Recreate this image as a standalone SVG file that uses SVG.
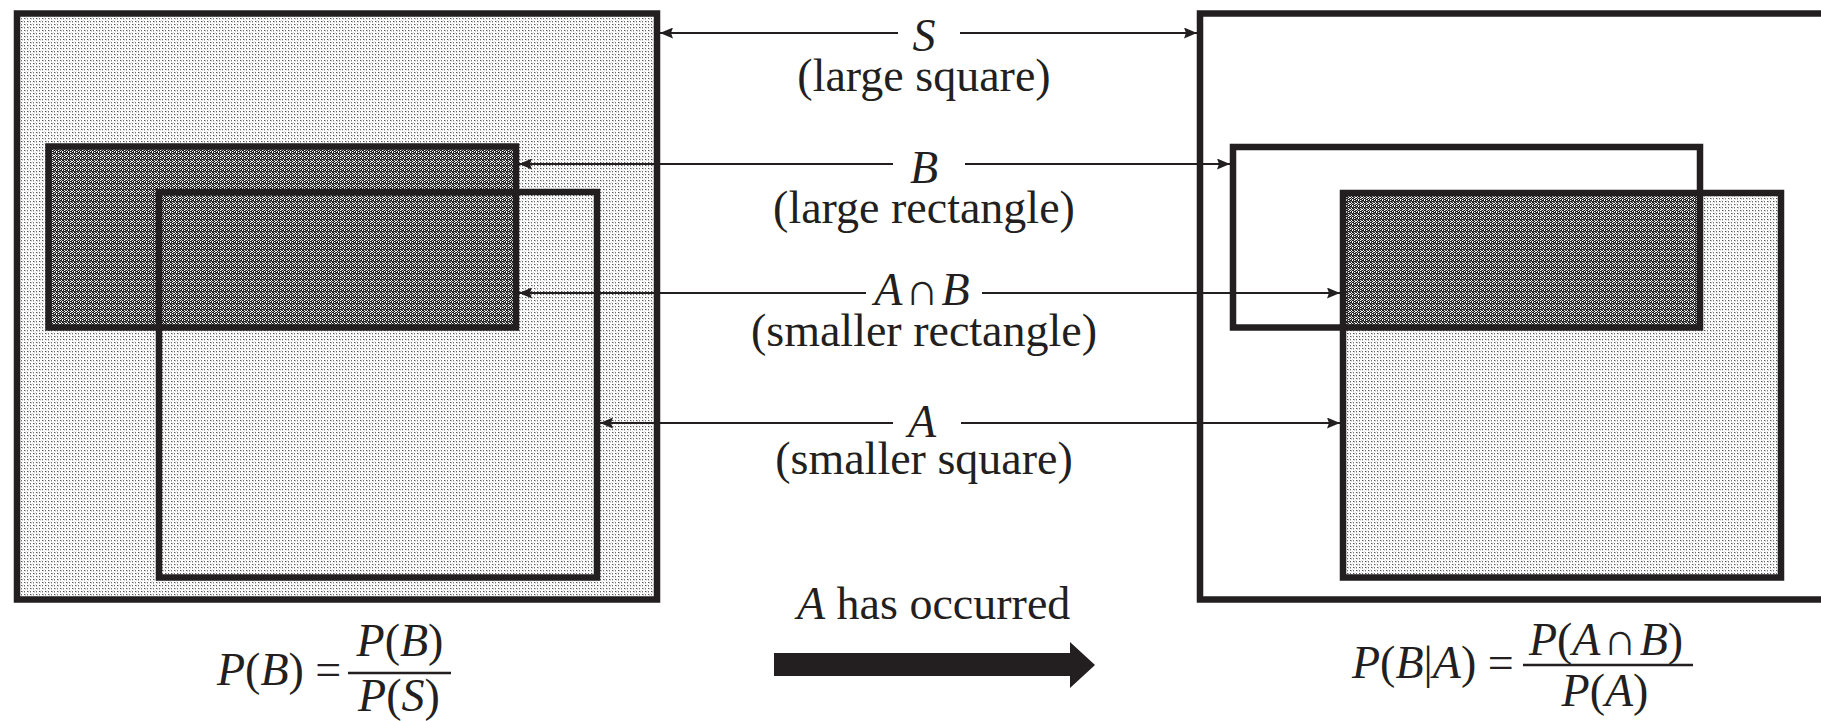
<svg xmlns="http://www.w3.org/2000/svg" width="1821" height="721" viewBox="0 0 1821 721">
<style>
.box{fill:none;stroke:#231f20;stroke-width:6.5}
.con{stroke:#231f20;stroke-width:2;fill:none}
.t{font-family:"Liberation Serif","Times New Roman",serif;font-size:46px;fill:#231f20}
.i{font-style:italic}
.m{text-anchor:middle}
</style>
<defs>
<pattern id="light" width="6" height="6" patternUnits="userSpaceOnUse">
<rect x="0" y="0" width="1" height="1" fill="#555"/><rect x="1" y="0" width="1" height="1" fill="#bbb"/>
<rect x="3" y="0" width="1" height="1" fill="#777"/><rect x="3" y="1" width="1" height="1" fill="#c4c4c4"/>
<rect x="0" y="3" width="1" height="1" fill="#6a6a6a"/><rect x="0" y="4" width="1" height="1" fill="#c0c0c0"/>
<rect x="3" y="3" width="1" height="1" fill="#4e4e4e"/><rect x="4" y="3" width="1" height="1" fill="#b4b4b4"/>
<rect x="1" y="1" width="1" height="1" fill="#dadada"/><rect x="4" y="4" width="1" height="1" fill="#d8d8d8"/>
<rect x="5" y="2" width="1" height="1" fill="#e0e0e0"/><rect x="2" y="5" width="1" height="1" fill="#e0e0e0"/>
</pattern>
<pattern id="dark" width="6" height="6" patternUnits="userSpaceOnUse">
<path fill="#1c1c1c" d="M0 0h1v1h-1z M2 0h2v1h-2z M1 1h1v1h-1z M4 1h2v1h-2z M0 2h2v1h-2z M3 2h1v1h-1z M2 3h1v1h-1z M4 3h2v1h-2z M0 4h1v1h-1z M2 4h2v1h-2z M1 5h1v1h-1z M4 5h1v1h-1z"/>
<path fill="#666" d="M5 0h1v1h-1z M3 1h1v1h-1z M5 2h1v1h-1z M1 3h1v1h-1z M5 4h1v1h-1z M3 5h1v1h-1z"/>
</pattern>
<marker id="ah" markerUnits="userSpaceOnUse" markerWidth="14" markerHeight="11" refX="13" refY="5.5" orient="auto-start-reverse">
<path d="M0,0 L13,5.5 L0,11 L2,5.5 z" fill="#231f20"/>
</marker>
</defs>
<rect width="1821" height="721" fill="#fff"/>

<g id="left-S">
<rect x="17" y="13.5" width="640" height="586" fill="url(#light)"/>
<rect class="box" x="17" y="13.5" width="640" height="586"/>
</g>
<g id="left-B">
<rect x="48.5" y="146.5" width="467.5" height="181" fill="url(#dark)"/>
<rect class="box" x="48.5" y="146.5" width="467.5" height="181"/>
</g>
<g id="left-A">
<rect class="box" x="159" y="192" width="438" height="385.5"/>
</g>

<g id="right-S">
<rect class="box" x="1200" y="13.5" width="640" height="586"/>
</g>
<g id="right-A">
<rect x="1343" y="193" width="438" height="384.5" fill="url(#light)"/>
<rect x="1343" y="193" width="357" height="134.5" fill="url(#dark)"/>
<rect class="box" x="1343" y="193" width="438" height="384.5"/>
</g>
<g id="right-B">
<rect class="box" x="1233" y="147" width="467" height="180.5"/>
</g>

<g id="connectors">
<line class="con" x1="660" y1="33" x2="898" y2="33" marker-start="url(#ah)"/>
<line class="con" x1="960" y1="33" x2="1197" y2="33" marker-end="url(#ah)"/>
<line class="con" x1="519" y1="164" x2="893" y2="164" marker-start="url(#ah)"/>
<line class="con" x1="965" y1="164" x2="1230" y2="164" marker-end="url(#ah)"/>
<line class="con" x1="519" y1="293" x2="866" y2="293" marker-start="url(#ah)"/>
<line class="con" x1="982" y1="293" x2="1340" y2="293" marker-end="url(#ah)"/>
<line class="con" x1="600" y1="423" x2="893" y2="423" marker-start="url(#ah)"/>
<line class="con" x1="961" y1="423" x2="1340" y2="423" marker-end="url(#ah)"/>
<polygon points="774,653 1070,653 1070,642 1095,665 1070,688 1070,676 774,676" fill="#231f20"/>
</g>

<g id="labels">
<text class="t i m" x="924" y="51">S</text>
<text class="t m" x="924" y="91">(large square)</text>
<text class="t i m" x="924" y="183">B</text>
<text class="t m" x="924" y="223">(large rectangle)</text>
<text class="t m" x="922" y="305"><tspan class="i">A</tspan><tspan dx="3">∩</tspan><tspan class="i" dx="3">B</tspan></text>
<text class="t m" x="924" y="346">(smaller rectangle)</text>
<text class="t i m" x="922" y="437">A</text>
<text class="t m" x="924" y="474">(smaller square)</text>
<text class="t" x="797" y="619"><tspan class="i">A</tspan> has occurred</text>
</g>

<g id="formula-left">
<text class="t" x="217" y="685"><tspan class="i">P</tspan>(<tspan class="i">B</tspan>) =</text>
<line x1="348" y1="673" x2="451" y2="673" stroke="#231f20" stroke-width="2.5"/>
<text class="t m" x="400" y="656"><tspan class="i">P</tspan>(<tspan class="i">B</tspan>)</text>
<text class="t m" x="399" y="711"><tspan class="i">P</tspan>(<tspan class="i">S</tspan>)</text>
</g>

<g id="formula-right">
<text class="t" x="1352" y="678"><tspan class="i">P</tspan>(<tspan class="i">B</tspan>|<tspan class="i">A</tspan>) =</text>
<line x1="1523" y1="665" x2="1693" y2="665" stroke="#231f20" stroke-width="2.5"/>
<text class="t m" x="1606" y="655"><tspan class="i">P</tspan>(<tspan class="i">A</tspan><tspan dx="3">∩</tspan><tspan class="i" dx="3">B</tspan>)</text>
<text class="t m" x="1605" y="706"><tspan class="i">P</tspan>(<tspan class="i">A</tspan>)</text>
</g>
</svg>
